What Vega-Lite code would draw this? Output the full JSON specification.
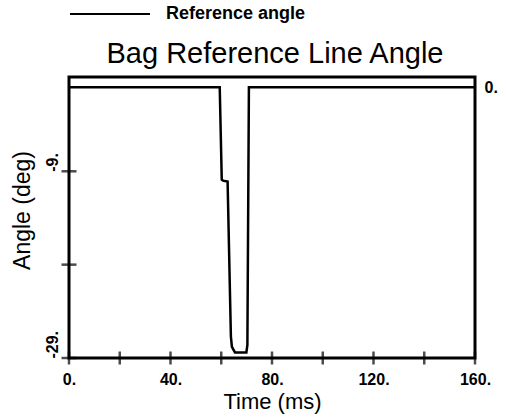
{
  "$schema": "https://vega.github.io/schema/vega-lite/v6.json",
  "width": 406,
  "height": 281,
  "autosize": "none",
  "padding": {"left": 69, "top": 77, "right": 31, "bottom": 59},
  "background": "white",
  "title": {
    "text": "Bag Reference Line Angle",
    "fontSize": 29,
    "fontWeight": "normal",
    "font": "Liberation Sans",
    "color": "black",
    "anchor": "middle",
    "baseline": "alphabetic",
    "offset": 15,
    "dy": 134,
    "dx": 3
  },
  "datasets": {
    "angle": [
      {"time": 0, "angle": 0},
      {"time": 59.4, "angle": 0},
      {"time": 60.2, "angle": -9.9},
      {"time": 60.7, "angle": -10.0},
      {"time": 62.5, "angle": -10.1},
      {"time": 63.8, "angle": -26.7},
      {"time": 64.2, "angle": -27.8},
      {"time": 65.4, "angle": -28.4},
      {"time": 69.9, "angle": -28.4},
      {"time": 70.3, "angle": -27.6},
      {"time": 70.9, "angle": 0},
      {"time": 160, "angle": 0}
    ],
    "xticks": [
      {"t": 0}, {"t": 20}, {"t": 40}, {"t": 60}, {"t": 80},
      {"t": 100}, {"t": 120}, {"t": 140}, {"t": 160}
    ],
    "yticks": [
      {"a": -29}, {"a": -19}, {"a": -9}
    ]
  },
  "layer": [
    {
      "data": {"name": "angle"},
      "mark": {"type": "line", "strokeWidth": 2.5, "color": "black"},
      "encoding": {
        "x": {
          "field": "time",
          "type": "quantitative",
          "scale": {"domain": [0, 160], "nice": false, "zero": false},
          "axis": {
            "orient": "bottom",
            "values": [0, 40, 80, 120, 160],
            "labelExpr": "datum.value + '.'",
            "title": "Time (ms)",
            "titleFontSize": 22,
            "titleFontWeight": "normal",
            "titlePadding": 4,
            "labelFontSize": 16,
            "labelFontWeight": "bold",
            "labelPadding": 13,
            "labelFlush": false,
            "labelOverlap": false
          }
        },
        "y": {
          "field": "angle",
          "type": "quantitative",
          "scale": {"domain": [-29, 1.1], "nice": false, "zero": false},
          "axis": {
            "orient": "left",
            "values": [-29, -9],
            "labelExpr": "datum.value + '.'",
            "labelAngle": 270,
            "labelAlign": "left",
            "labelBaseline": "bottom",
            "labelPadding": 9,
            "labelFontSize": 16,
            "labelFontWeight": "bold",
            "labelFlush": false,
            "labelOverlap": false,
            "title": "Angle (deg)",
            "titleFontSize": 23,
            "titleFontWeight": "normal",
            "titleX": -35,
            "titleY": 133,
            "titleAngle": 270,
            "titleAlign": "center",
            "titleBaseline": "bottom"
          }
        },
        "color": {
          "datum": "Reference angle",
          "type": "nominal",
          "scale": {"range": ["black"]},
          "legend": {
            "orient": "none",
            "legendX": 0,
            "legendY": -104,
            "title": null,
            "symbolType": "stroke",
            "symbolSize": 6400,
            "symbolStrokeWidth": 2,
            "symbolStrokeColor": "black",
            "labelFontSize": 18,
            "labelFontWeight": "bold",
            "labelOffset": 15,
            "padding": 0
          }
        }
      }
    },
    {
      "data": {"name": "xticks"},
      "mark": {"type": "tick", "orient": "vertical", "size": 13, "thickness": 2.5, "color": "black"},
      "encoding": {
        "x": {"field": "t", "type": "quantitative", "axis": null},
        "y": {"datum": -29, "type": "quantitative", "axis": null}
      }
    },
    {
      "data": {"name": "yticks"},
      "mark": {"type": "tick", "orient": "horizontal", "size": 15, "thickness": 2.5, "color": "black"},
      "encoding": {
        "x": {"datum": 0, "type": "quantitative", "axis": null},
        "y": {
          "field": "a",
          "type": "quantitative",
          "axis": {
            "orient": "right",
            "values": [0],
            "labelExpr": "datum.value + '.'",
            "labelAngle": 0,
            "labelAlign": "left",
            "labelBaseline": "middle",
            "labelPadding": 9,
            "labelFontSize": 16,
            "labelFontWeight": "bold",
            "labelFlush": false,
            "title": null
          }
        }
      }
    }
  ],
  "resolve": {
    "scale": {"x": "shared", "y": "shared"},
    "axis": {"x": "independent", "y": "independent"}
  },
  "config": {
    "font": "Liberation Sans",
    "view": {"stroke": "black", "strokeWidth": 3},
    "axis": {
      "domain": false,
      "ticks": false,
      "tickSize": 0,
      "grid": false,
      "labelColor": "black",
      "titleColor": "black",
      "labelFont": "Liberation Sans",
      "titleFont": "Liberation Sans"
    },
    "legend": {
      "labelColor": "black",
      "labelFont": "Liberation Sans"
    }
  }
}
